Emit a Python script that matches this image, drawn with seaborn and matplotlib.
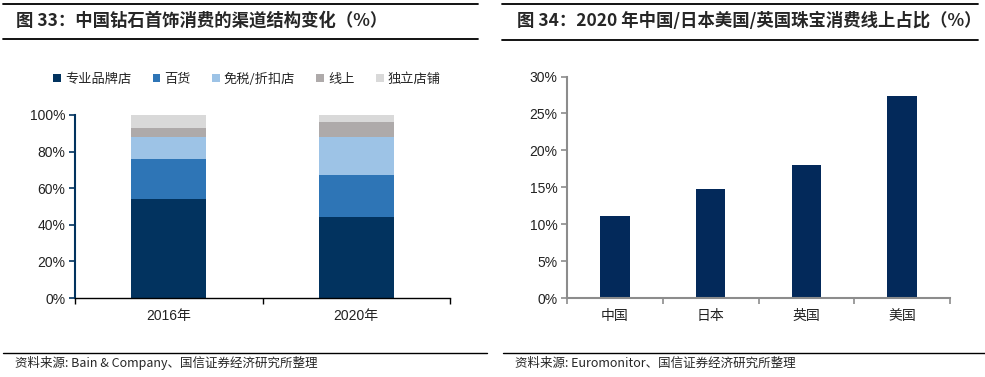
import numpy as np
import pandas as pd
import matplotlib
matplotlib.use("Agg")
import matplotlib.pyplot as plt
import seaborn as sns
from matplotlib.lines import Line2D
from matplotlib.patches import Patch
from matplotlib.ticker import PercentFormatter, FixedLocator

# ---- data ----
years = ["2016年", "2020年"]
channels = ["专业品牌店", "百货", "免税/折扣店", "线上", "独立店铺"]
share_2016 = [0.54, 0.22, 0.12, 0.05, 0.07]
share_2020 = [0.44, 0.23, 0.21, 0.08, 0.04]
channel_colors = ["#02335F", "#2E75B6", "#9DC3E6", "#AEAAAA", "#D9D9D9"]

countries = ["中国", "日本", "英国", "美国"]
online_share = [0.111, 0.147, 0.180, 0.273]

sns.set_theme(style="white")
plt.rcParams["font.family"] = ["Liberation Sans", "Noto Sans CJK SC"]

W, H = 985, 377
fig = plt.figure(figsize=(W / 100, H / 100), dpi=100)


def px_axes(x0, y0, x1, y1):
    return fig.add_axes([x0 / W, 1 - y1 / H, (x1 - x0) / W, (y1 - y0) / H])


def hline(x0, x1, y, lw=1.3):
    fig.add_artist(Line2D([x0 / W, x1 / W], [1 - y / H, 1 - y / H],
                          color="black", lw=lw, transform=fig.transFigure))


cjk = ["Noto Sans CJK SC", "Liberation Sans"]

# ---- titles and rules ----
hline(3, 478, 4)
hline(3, 478, 39)
hline(502, 978, 4)
hline(502, 978, 40)
fig.text(16 / W, 1 - 21 / H, "图 33：中国钻石首饰消费的渠道结构变化（%）",
         fontsize=12.5, fontweight="bold", family=cjk, va="center", ha="left")
fig.text(517 / W, 1 - 21 / H, "图 34：2020 年中国/日本美国/英国珠宝消费线上占比（%）",
         fontsize=12.5, fontweight="bold", family=cjk, va="center", ha="left")

# ---- footers ----
hline(3, 487, 352.7, lw=1.0)
hline(503, 985, 352.7, lw=1.0)
fig.text(15 / W, 1 - 363 / H, "资料来源: Bain & Company、国信证券经济研究所整理",
         fontsize=9, family=cjk, va="center", ha="left")
fig.text(515 / W, 1 - 363 / H, "资料来源: Euromonitor、国信证券经济研究所整理",
         fontsize=9, family=cjk, va="center", ha="left")

# ---- left: stacked bars ----
ax1 = px_axes(75, 115, 450, 298)
df = pd.DataFrame({"year": np.repeat(years, len(channels)),
                   "channel": channels * len(years),
                   "share": share_2016 + share_2020})
df["cum"] = df.groupby("year")["share"].cumsum()
for ch, col in reversed(list(zip(channels, channel_colors))):
    sub = df[df["channel"] == ch]
    sns.barplot(data=sub, x="year", y="cum", order=years, color=col,
                width=0.4, saturation=1, linewidth=0, ax=ax1, zorder=2)
ax1.set_ylim(0, 1)
ax1.set_xlim(-0.5, 1.5)
ax1.yaxis.set_major_formatter(PercentFormatter(1, decimals=0))
ax1.set_yticks(np.arange(0, 1.01, 0.2))
ax1.set_xlabel("")
ax1.set_ylabel("")
for s in ["top", "right"]:
    ax1.spines[s].set_visible(False)
ax1.spines["left"].set_color("#02335F")
ax1.spines["left"].set_linewidth(1.5)
ax1.spines["bottom"].set_color("black")
ax1.spines["bottom"].set_linewidth(1.0)
ax1.tick_params(axis="y", left=True, length=4, width=1.2, color="#02335F",
                labelsize=10, pad=3, labelcolor="#222222")
ax1.tick_params(axis="x", which="major", length=0, labelsize=10, pad=8,
                labelcolor="#222222")
ax1.xaxis.set_minor_locator(FixedLocator([-0.5, 0.5, 1.5]))
ax1.tick_params(axis="x", which="minor", bottom=True, length=4, width=1.0,
                color="black")
handles = [Patch(facecolor=c, edgecolor="none") for c in channel_colors]
fig.legend(handles, channels, loc="center", bbox_to_anchor=(247 / W, 1 - 79 / H),
           ncol=5, frameon=False, handlelength=0.6, handleheight=0.6,
           handletextpad=0.3, columnspacing=1.6, prop={"family": cjk, "size": 9.5})

# ---- right: online share ----
ax2 = px_axes(567, 76.5, 950, 298)
df2 = pd.DataFrame({"country": countries, "share": online_share})
sns.barplot(data=df2, x="country", y="share", order=countries, color="#03295A",
            width=0.31, saturation=1, linewidth=0, ax=ax2)
ax2.set_ylim(0, 0.30)
ax2.set_xlim(-0.5, 3.5)
ax2.set_yticks(np.arange(0, 0.301, 0.05))
ax2.yaxis.set_major_formatter(PercentFormatter(1, decimals=0))
ax2.set_xlabel("")
ax2.set_ylabel("")
for s in ["top", "right"]:
    ax2.spines[s].set_visible(False)
for s in ["left", "bottom"]:
    ax2.spines[s].set_color("#8C8C8C")
    ax2.spines[s].set_linewidth(1.5)
ax2.tick_params(axis="y", left=True, length=4, width=1.2, color="#8C8C8C",
                labelsize=10, pad=3, labelcolor="#222222")
ax2.tick_params(axis="x", which="major", length=0, labelsize=10, pad=8,
                labelcolor="#222222")
for lab in ax2.get_xticklabels():
    lab.set_family(cjk)
ax2.xaxis.set_minor_locator(FixedLocator([-0.5, 0.5, 1.5, 2.5, 3.5]))
ax2.tick_params(axis="x", which="minor", bottom=True, length=4, width=1.2,
                color="#8C8C8C")

fig.savefig("out.png", dpi=100)
